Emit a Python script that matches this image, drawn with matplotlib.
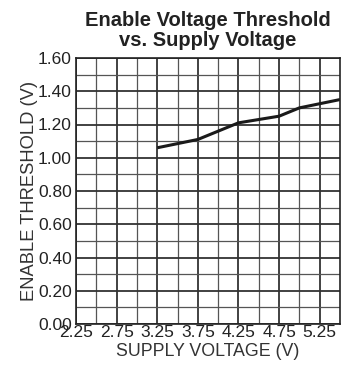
import matplotlib
matplotlib.use("Agg")
import matplotlib.pyplot as plt
import numpy as np

plt.rcParams['font.family'] = ['Liberation Sans', 'DejaVu Sans']

supply_v = [3.25, 3.75, 4.0, 4.25, 4.75, 5.0, 5.5]
threshold_v = [1.06, 1.11, 1.16, 1.21, 1.25, 1.30, 1.35]
x_ticks = [2.25, 2.75, 3.25, 3.75, 4.25, 4.75, 5.25]
y_ticks = [0.0, 0.2, 0.4, 0.6, 0.8, 1.0, 1.2, 1.4, 1.6]

fig = plt.figure(figsize=(3.45, 3.65), dpi=100)
ax = fig.add_axes([76/345, 1-324/365, (340-76)/345, (324-58)/365])

ax.set_xlim(2.25, 5.5)
ax.set_ylim(0, 1.6)
ax.set_xticks(x_ticks)
ax.set_xticklabels([f"{v:.2f}" for v in x_ticks])
ax.set_yticks(y_ticks)
ax.set_yticklabels([f"{v:.2f}" for v in y_ticks])
ax.set_xticks(np.arange(2.5, 5.5, 0.5), minor=True)
ax.set_yticks(np.arange(0.1, 1.6, 0.2), minor=True)
ax.tick_params(which='both', length=0, labelsize=12.5, colors='#222222')
ax.tick_params(axis='y', pad=3)
ax.tick_params(axis='x', pad=1)
ax.grid(which='major', color='#333333', linewidth=1.3)
ax.grid(which='minor', color='#555555', linewidth=0.9)
for s in ax.spines.values():
    s.set_color('#222222')
    s.set_linewidth(1.2)

ax.plot(supply_v, threshold_v, color='#1a1a1a', linewidth=2.2, solid_capstyle='butt')

ax.set_xlabel('SUPPLY VOLTAGE (V)', fontsize=12.8, color='#333333', labelpad=2)
ax.set_ylabel('ENABLE THRESHOLD (V)', fontsize=13.2, color='#333333', labelpad=0)
ax.set_title('Enable Voltage Threshold\nvs. Supply Voltage', fontsize=14.5,
             fontweight='bold', color='#222222', pad=9, linespacing=1.05)

fig.savefig('out.png', dpi=100)
